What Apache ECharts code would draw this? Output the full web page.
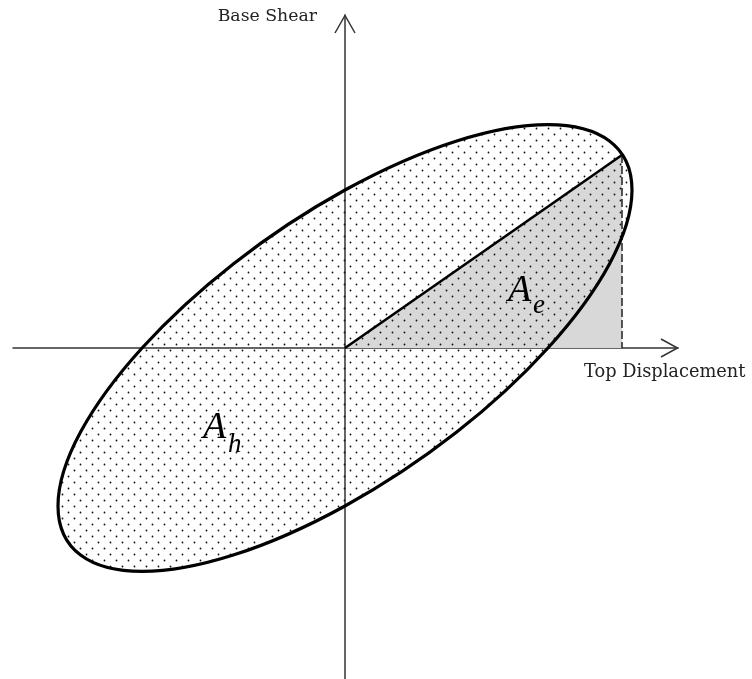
<!DOCTYPE html>
<html>
<head>
<meta charset="utf-8">
<script src="https://cdn.jsdelivr.net/npm/echarts@6/dist/echarts.min.js"></script>
<style>
  html, body { margin: 0; padding: 0; background: #fff; }
  #chart { width: 752px; height: 679px; }
</style>
</head>
<body>
<div id="chart"></div>
<script>
// Axis extents (top displacement, base shear), arbitrary units
const xRange = [-332, 333];
const yRange = [-331, 333];

// Hysteresis loop: centre plus two conjugate half-diameters
const loopCenter = [0, 0];
const loopPeakDisp = [287, 158];   // end of the displacement half-diameter
const loopZeroDisp = [0, 158];     // base shear at zero displacement

// Peak response point bounding the elastic strain energy triangle
const peakPoint = [277, 193];

// Text
const axisNames = { x: 'Top Displacement', y: 'Base Shear' };
const areaLabels = [
  { main: 'A', sub: 'h' },  // hysteretic energy
  { main: 'A', sub: 'e' }   // elastic strain energy
];

// Label anchors (data units): main letter, subscript
const labelAnchors = [
  { main: [-142, -80], sub: [-117, -97] },
  { main: [163, 57], sub: [188, 42] }
];

const FONT_SERIF = '"DejaVu Serif", "Liberation Serif", serif';
const FONT_MATH = '"Liberation Serif", "DejaVu Serif", serif';

// Dotted fill used inside the loop
function dotPattern() {
  const c = document.createElement('canvas');
  c.width = 12; c.height = 12;
  const g = c.getContext('2d');
  g.fillStyle = '#111';
  [[2.5, 2.5], [8.5, 8.5]].forEach(function (d) {
    g.beginPath();
    g.arc(d[0], d[1], 0.9, 0, Math.PI * 2);
    g.fill();
  });
  return c;
}
const DOTS = dotPattern();

// Ellipse through the conjugate half-diameters, as four cubic Béziers
function loopPathData(api) {
  const c = api.coord(loopCenter);
  const a = api.coord(loopPeakDisp);
  const b = api.coord(loopZeroDisp);
  const p = [a[0] - c[0], a[1] - c[1]];
  const q = [b[0] - c[0], b[1] - c[1]];
  const k = 0.5523;
  function pt(u, v) {
    return (c[0] + u * p[0] + v * q[0]).toFixed(2) + ' ' + (c[1] + u * p[1] + v * q[1]).toFixed(2);
  }
  return 'M ' + pt(1, 0) +
    ' C ' + pt(1, k) + ' ' + pt(k, 1) + ' ' + pt(0, 1) +
    ' C ' + pt(-k, 1) + ' ' + pt(-1, k) + ' ' + pt(-1, 0) +
    ' C ' + pt(-1, -k) + ' ' + pt(-k, -1) + ' ' + pt(0, -1) +
    ' C ' + pt(k, -1) + ' ' + pt(1, -k) + ' ' + pt(1, 0) + ' Z';
}

const chart = echarts.init(document.getElementById('chart'), null, { renderer: 'canvas' });

const axisCommon = {
  type: 'value',
  axisLine: { onZero: true, lineStyle: { color: '#333', width: 1.5 } },
  axisTick: { show: false },
  axisLabel: { show: false },
  splitLine: { show: false }
};

chart.setOption({
  animation: false,
  backgroundColor: '#fff',
  grid: { left: 13, right: 74, top: 15, bottom: 0, containLabel: false },
  xAxis: Object.assign({}, axisCommon, {
    min: xRange[0], max: xRange[1],
    name: axisNames.x,
    nameLocation: 'end',
    nameGap: -94,
    nameTextStyle: {
      fontFamily: FONT_SERIF, fontSize: 17.8, color: '#222',
      align: 'left', verticalAlign: 'top', padding: [15, 0, 0, 0]
    }
  }),
  yAxis: Object.assign({}, axisCommon, {
    min: yRange[0], max: yRange[1],
    name: axisNames.y,
    nameLocation: 'end',
    nameGap: -2,
    nameTextStyle: {
      fontFamily: FONT_SERIF, fontSize: 17.3, color: '#222',
      align: 'right', verticalAlign: 'middle', padding: [0, 28, 0, 0]
    }
  }),
  series: [
    {
      // elastic strain energy triangle
      type: 'line',
      data: [loopCenter, peakPoint],
      showSymbol: false,
      symbol: 'none',
      lineStyle: { width: 0 },
      areaStyle: { color: '#d8d8d8', opacity: 1 },
      z: 1,
      silent: true
    },
    {
      // dotted interior of the hysteresis loop
      type: 'custom',
      data: [loopCenter],
      z: 2,
      silent: true,
      renderItem: function (params, api) {
        return {
          type: 'path',
          shape: { pathData: loopPathData(api) },
          style: { fill: { image: DOTS, repeat: 'repeat' }, stroke: null }
        };
      }
    },
    {
      // secant line to the peak
      type: 'line',
      data: [loopCenter, peakPoint],
      showSymbol: false,
      symbol: 'none',
      lineStyle: { color: '#000', width: 2.6 },
      z: 3,
      silent: true
    },
    {
      // drop line from the peak to the displacement axis
      type: 'line',
      data: [peakPoint, [peakPoint[0], 0]],
      showSymbol: false,
      symbol: 'none',
      lineStyle: { color: '#222', width: 1.5, type: [8, 3] },
      z: 3,
      silent: true
    },
    {
      // loop outline
      type: 'custom',
      data: [loopCenter],
      z: 4,
      silent: true,
      renderItem: function (params, api) {
        return {
          type: 'path',
          shape: { pathData: loopPathData(api) },
          style: { fill: null, stroke: '#000', lineWidth: 3.2 }
        };
      }
    },
    {
      // open arrowheads at the positive axis ends
      type: 'custom',
      data: [[xRange[1], 0, 0], [0, yRange[1], 1]],
      z: 5,
      silent: true,
      renderItem: function (params, api) {
        const t = api.coord([api.value(0), api.value(1)]);
        const vertical = api.value(2) === 1;
        const pts = vertical
          ? [[t[0] - 10, t[1] + 18], [t[0], t[1] + 0.5], [t[0] + 10, t[1] + 18]]
          : [[t[0] - 17, t[1] - 9], [t[0] - 0.5, t[1]], [t[0] - 17, t[1] + 9]];
        return {
          type: 'polyline',
          shape: { points: pts },
          style: { fill: null, stroke: '#333', lineWidth: 1.5 }
        };
      }
    },
    {
      // energy area labels
      type: 'custom',
      data: areaLabels.map(function (d, i) { return [i]; }),
      z: 6,
      silent: true,
      renderItem: function (params, api) {
        const i = api.value(0);
        const m = api.coord(labelAnchors[i].main);
        const s = api.coord(labelAnchors[i].sub);
        return {
          type: 'group',
          children: [
            {
              type: 'text', x: m[0], y: m[1],
              style: {
                text: areaLabels[i].main, fill: '#000',
                font: 'italic 38px ' + FONT_MATH,
                align: 'left', verticalAlign: 'middle'
              }
            },
            {
              type: 'text', x: s[0], y: s[1],
              style: {
                text: areaLabels[i].sub, fill: '#000',
                font: 'italic 27px ' + FONT_MATH,
                align: 'left', verticalAlign: 'middle'
              }
            }
          ]
        };
      }
    }
  ]
});
</script>
</body>
</html>
